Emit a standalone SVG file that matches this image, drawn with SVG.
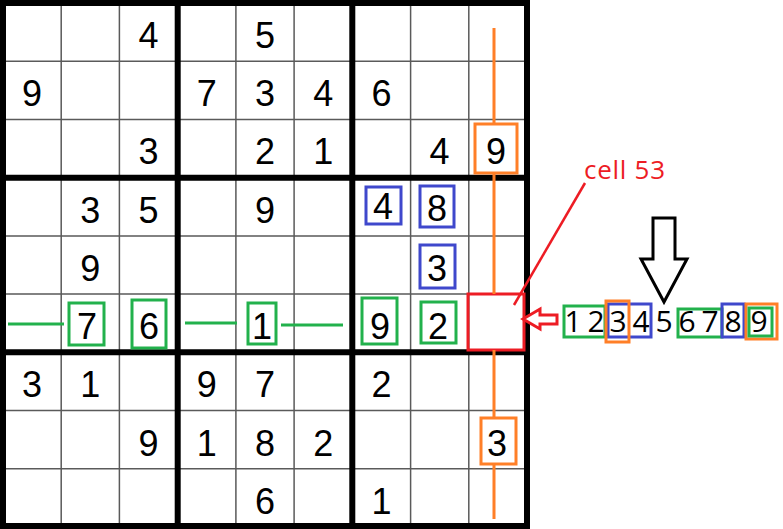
<svg xmlns="http://www.w3.org/2000/svg" width="783" height="529" viewBox="0 0 783 529">
<style>
.bg{fill:#fff}
.thin{stroke:#5a5a5a;stroke-width:1.5;fill:none}
.thick{stroke:#000;stroke-width:6;fill:none}
.d{font-family:"Liberation Sans",Arial,sans-serif;font-size:36px;fill:#000;text-anchor:middle}
.c{font-family:"Open Sans","Noto Sans",sans-serif;font-size:30px;fill:#000;text-anchor:middle}
.g{fill:none;stroke:#22B14C;stroke-width:3}
.b{fill:none;stroke:#3F48CC;stroke-width:3}
.o{fill:none;stroke:#FF7F27;stroke-width:3}
.r{fill:none;stroke:#ED1C24;stroke-width:3}
.gl{stroke:#22B14C;stroke-width:3}
.ol{stroke:#FF7F27;stroke-width:3}
.rl{stroke:#ED1C24;stroke-width:2.5}
.lbl{font-family:"Open Sans","Noto Sans",sans-serif;font-size:26px;fill:#ED1C24}
</style>
<rect class="bg" x="0" y="0" width="783" height="529"/>
<g id="grid">
<path class="thin" d="M61.2 3V527M119.4 3V527M235.9 3V527M294.1 3V527M410.6 3V527M468.8 3V527M3 61.2H527M3 119.4H527M3 235.9H527M3 294.1H527M3 410.6H527M3 468.8H527"/>
<path class="thick" d="M177.7 3V527M352.3 3V527M3 177.7H527M3 352.3H527"/>
<rect class="thick" x="3" y="3" width="524" height="523"/>
</g>
<g id="givens">
<text class="d" x="148.6" y="48">4</text>
<text class="d" x="265" y="48">5</text>
<text class="d" x="32.1" y="106">9</text>
<text class="d" x="206.8" y="106">7</text>
<text class="d" x="265" y="106">3</text>
<text class="d" x="323.2" y="106">4</text>
<text class="d" x="381.4" y="106">6</text>
<text class="d" x="148.6" y="164">3</text>
<text class="d" x="265" y="164">2</text>
<text class="d" x="323.2" y="164">1</text>
<text class="d" x="439.6" y="164">4</text>
<text class="d" x="90.3" y="223">3</text>
<text class="d" x="148.6" y="223">5</text>
<text class="d" x="265" y="223">9</text>
<text class="d" x="90.3" y="281">9</text>
<text class="d" x="32.1" y="397">3</text>
<text class="d" x="90.3" y="397">1</text>
<text class="d" x="206.8" y="397">9</text>
<text class="d" x="265" y="397">7</text>
<text class="d" x="381.4" y="397">2</text>
<text class="d" x="148.6" y="456">9</text>
<text class="d" x="206.8" y="456">1</text>
<text class="d" x="265" y="456">8</text>
<text class="d" x="323.2" y="456">2</text>
<text class="d" x="265" y="514">6</text>
<text class="d" x="381.4" y="514">1</text>
</g>
<g id="column-orange">
<text class="d" x="496" y="164">9</text>
<rect class="o" x="475" y="124" width="42" height="49"/>
<text class="d" x="497" y="456">3</text>
<rect class="o" x="481" y="418" width="35" height="46"/>
</g>
<g id="box-blue">
<text class="d" x="383" y="219">4</text>
<rect class="b" x="366" y="187" width="35" height="37"/>
<text class="d" x="437" y="221">8</text>
<rect class="b" x="420" y="186" width="34" height="41"/>
<text class="d" x="437" y="281">3</text>
<rect class="b" x="420" y="245" width="35" height="43"/>
</g>
<g id="row-green">
<text class="d" x="87" y="339">7</text>
<rect class="g" x="69" y="303" width="35" height="42"/>
<text class="d" x="149" y="339">6</text>
<rect class="g" x="132" y="300" width="34" height="48"/>
<text class="d" x="262" y="339">1</text>
<rect class="g" x="248" y="303" width="28" height="41"/>
<text class="d" x="380" y="339">9</text>
<rect class="g" x="362" y="298" width="35" height="46"/>
<text class="d" x="438" y="339">2</text>
<rect class="g" x="421" y="302" width="35" height="41"/>
</g>
<g id="cell53">
<rect class="r" x="468" y="294" width="56" height="56"/>
</g>
<g id="label">
<text class="lbl" x="584" y="179" textLength="81">cell 53</text>
</g>
<g id="candidates">
<text class="c" x="573" y="332">1</text>
<text class="c" x="596" y="332">2</text>
<text class="c" x="618" y="332">3</text>
<text class="c" x="641" y="332">4</text>
<text class="c" x="664" y="332">5</text>
<text class="c" x="687" y="332">6</text>
<text class="c" x="710" y="332">7</text>
<text class="c" x="733" y="332">8</text>
<text class="c" x="759" y="332">9</text>
<rect class="g" x="564" y="306" width="41" height="31"/>
<rect class="b" x="608" y="304" width="43" height="33"/>
<rect class="o" x="606" y="301" width="23" height="41"/>
<rect class="g" x="678" y="309" width="44" height="28"/>
<rect class="b" x="722" y="304" width="22" height="33"/>
<rect class="o" x="746" y="304" width="31" height="35"/>
<rect class="g" x="749" y="308" width="23" height="28"/>
</g>
<g id="connectors">
<path class="ol" d="M494 28V124M494 173V294M494 350V418M494 464V519"/>
<path class="gl" d="M8 324H64M185 323H237M281 325H343"/>
<path class="rl" d="M514 305L585 183"/>
<polygon fill="#fff" stroke="#ED1C24" stroke-width="3" points="523,319 540,309 540,315 557,315 557,324 540,324 540,329"/>
<polygon fill="#fff" stroke="#000" stroke-width="3" points="653,218 675,218 675,259 687,259 664,302 641,259 653,259"/>
</g>
</svg>
